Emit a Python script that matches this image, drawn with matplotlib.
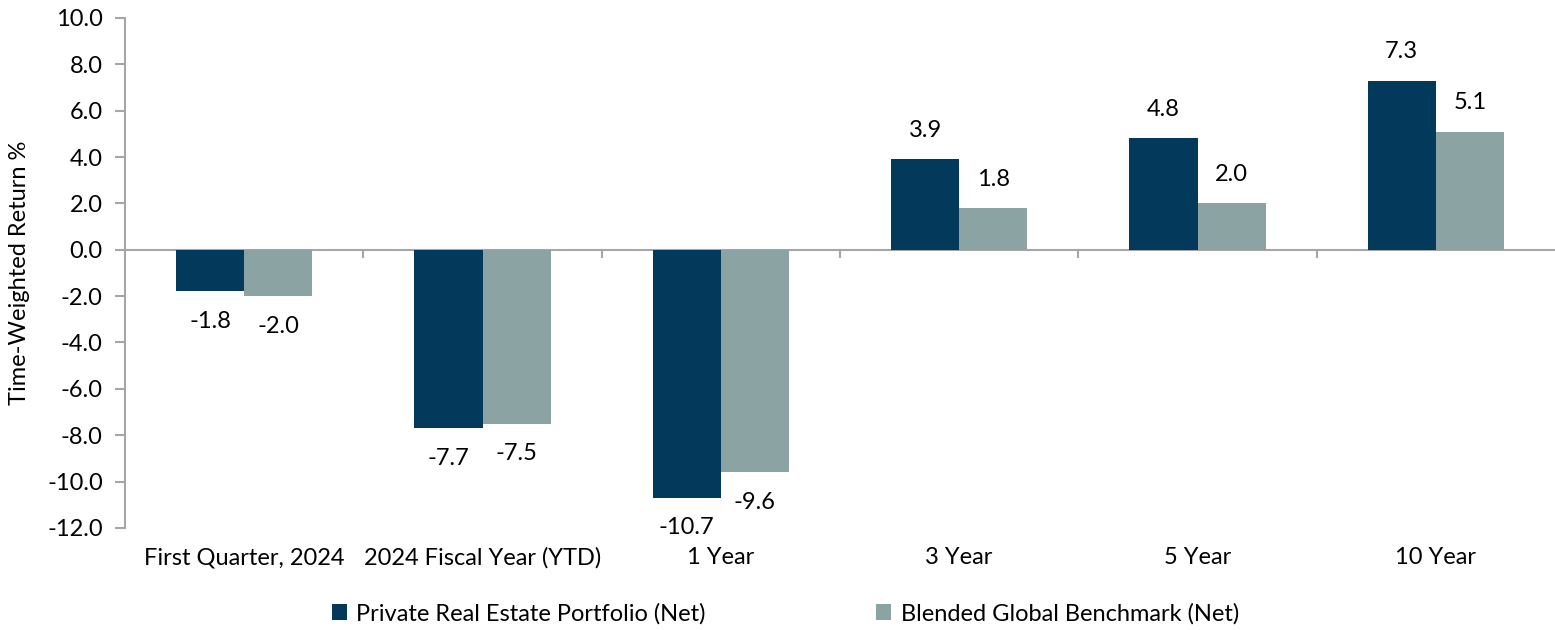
import numpy as np
import matplotlib.pyplot as plt

# chart data
categories = ['First Quarter, 2024', '2024 Fiscal Year (YTD)', '1 Year', '3 Year', '5 Year', '10 Year']
portfolio = [-1.8, -7.7, -10.7, 3.9, 4.8, 7.3]
benchmark = [-2.0, -7.5, -9.6, 1.8, 2.0, 5.1]
series_names = ['Private Real Estate Portfolio (Net)', 'Blended Global Benchmark (Net)']

dark = '#03395A'
grey = '#8CA3A3'
axis_col = '#A6A6A6'

plt.rcParams['font.family'] = ['Lato', 'DejaVu Sans']
fs = 17

fig = plt.figure(figsize=(15.55, 6.3), dpi=100)
ax = fig.add_axes([0.0804, 0.162, 0.9196, 0.8095])

x = np.arange(len(categories))
w = 0.2857
b1 = ax.bar(x - w / 2, portfolio, w, color=dark, label=series_names[0])
b2 = ax.bar(x + w / 2, benchmark, w, color=grey, label=series_names[1])

# value labels: above positive bars, below negative ones
for bars, vals in ((b1, portfolio), (b2, benchmark)):
    for bar, v in zip(bars, vals):
        off = 13 if v >= 0 else -14
        ax.annotate(f'{v:.1f}', (bar.get_x() + bar.get_width() / 2, v),
                    xytext=(0, off), textcoords='offset points',
                    ha='center', va='bottom' if v >= 0 else 'top', fontsize=fs)

ax.set_xlim(-0.5, len(categories) - 0.5)
ax.set_ylim(-12, 10)
ax.set_yticks(np.arange(-12, 10.1, 2))
ax.set_yticklabels([f'{t:.1f}' for t in np.arange(-12, 10.1, 2)], fontsize=fs)
ax.set_ylabel('Time-Weighted Return %', fontsize=fs, labelpad=12)

# category labels below the plot, boundary ticks on the zero line
ax.set_xticks(x)
ax.set_xticklabels(categories, fontsize=fs)
ax.tick_params(axis='x', length=0, pad=14)
ax.tick_params(axis='y', length=7, color=axis_col, width=1.5, pad=9)
ax.axhline(0, color=axis_col, lw=1.5, zorder=0)
for b in np.arange(0.5, len(categories) - 0.5, 1):
    ax.plot([b, b], [0, -0.3], color=axis_col, lw=1.5, clip_on=False)

for s in ['top', 'right', 'bottom']:
    ax.spines[s].set_visible(False)
ax.spines['left'].set_color(axis_col)
ax.spines['left'].set_linewidth(1.5)

fig.legend(loc='center', bbox_to_anchor=(0.505, 0.026), ncol=2, frameon=False,
           fontsize=fs, handlelength=0.65, handleheight=0.65, handletextpad=0.4,
           columnspacing=7.2)

fig.savefig('out.png', dpi=100)
